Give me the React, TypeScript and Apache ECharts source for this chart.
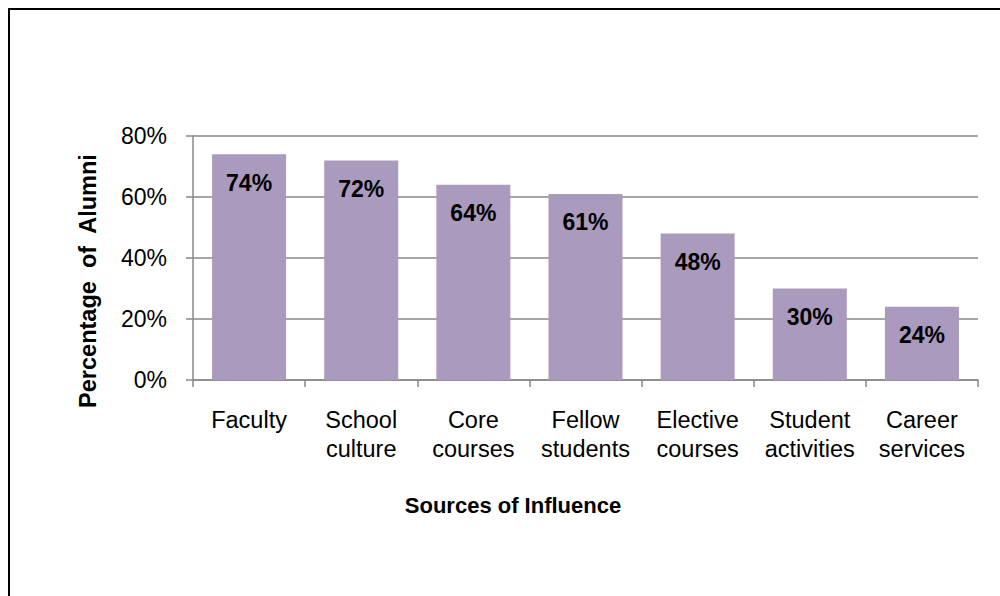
import React, { useEffect, useRef } from "react";
import * as echarts from "echarts";

const categories = [
  "Faculty",
  "School\nculture",
  "Core\ncourses",
  "Fellow\nstudents",
  "Elective\ncourses",
  "Student\nactivities",
  "Career\nservices",
];
const values = [74, 72, 64, 61, 48, 30, 24];
const yTicks = { min: 0, max: 80, interval: 20 };
const yAxisTitle = "Percentage  of  Alumni";
const xAxisTitle = "Sources of Influence";

const FONT = "Liberation Sans, Arial, sans-serif";

export default function App() {
  const ref = useRef<HTMLDivElement>(null);
  useEffect(() => {
    if (!ref.current) return;
    const chart = echarts.init(ref.current, undefined, { renderer: "svg" });
    chart.setOption({
      animation: false,
      backgroundColor: "#ffffff",
      textStyle: { fontFamily: FONT },
      grid: { left: 193, right: 22, top: 136, bottom: 216 },
      xAxis: {
        type: "category",
        data: categories,
        axisLine: { lineStyle: { color: "#898989", width: 1.5 } },
        axisTick: { show: true, length: 7, alignWithLabel: false, lineStyle: { color: "#898989", width: 1.5 } },
        axisLabel: {
          color: "#000",
          fontSize: 23.5,
          lineHeight: 28.5,
          margin: 26,
          interval: 0,
          fontFamily: FONT,
        },
      },
      yAxis: {
        type: "value",
        min: yTicks.min,
        max: yTicks.max,
        interval: yTicks.interval,
        axisLine: { show: true, lineStyle: { color: "#898989", width: 1.5 } },
        axisTick: { show: true, length: 7, lineStyle: { color: "#898989", width: 1.5 } },
        splitLine: { show: true, lineStyle: { color: "#898989", width: 1.5 } },
        axisLabel: {
          color: "#000",
          fontSize: 23,
          margin: 26,
          formatter: "{value}%",
          fontFamily: FONT,
        },
      },
      series: [
        {
          type: "bar",
          data: values,
          barCategoryGap: "34%",
          itemStyle: { color: "#A99ABE" },
          label: {
            show: true,
            position: "insideTop",
            distance: 17,
            formatter: "{c}%",
            color: "#000",
            fontWeight: "bold",
            fontSize: 23,
            fontFamily: FONT,
          },
        },
      ],
      graphic: [
        {
          type: "rect",
          shape: { x: 9, y: 9, width: 1100, height: 700 },
          style: { fill: "none", stroke: "#000", lineWidth: 2 },
          silent: true,
        },
        {
          type: "text",
          x: 88,
          y: 281,
          rotation: Math.PI / 2,
          style: {
            text: yAxisTitle,
            font: `bold 23.5px ${FONT}`,
            fill: "#000",
            textAlign: "center",
            textVerticalAlign: "middle",
          },
        },
        {
          type: "text",
          x: 513,
          y: 505,
          style: {
            text: xAxisTitle,
            font: `bold 22px ${FONT}`,
            fill: "#000",
            textAlign: "center",
            textVerticalAlign: "middle",
          },
        },
      ],
    });
    return () => chart.dispose();
  }, []);
  return (
    <div
      ref={ref}
      style={{ position: "fixed", left: 0, top: 0, width: 1000, height: 596 }}
    />
  );
}
